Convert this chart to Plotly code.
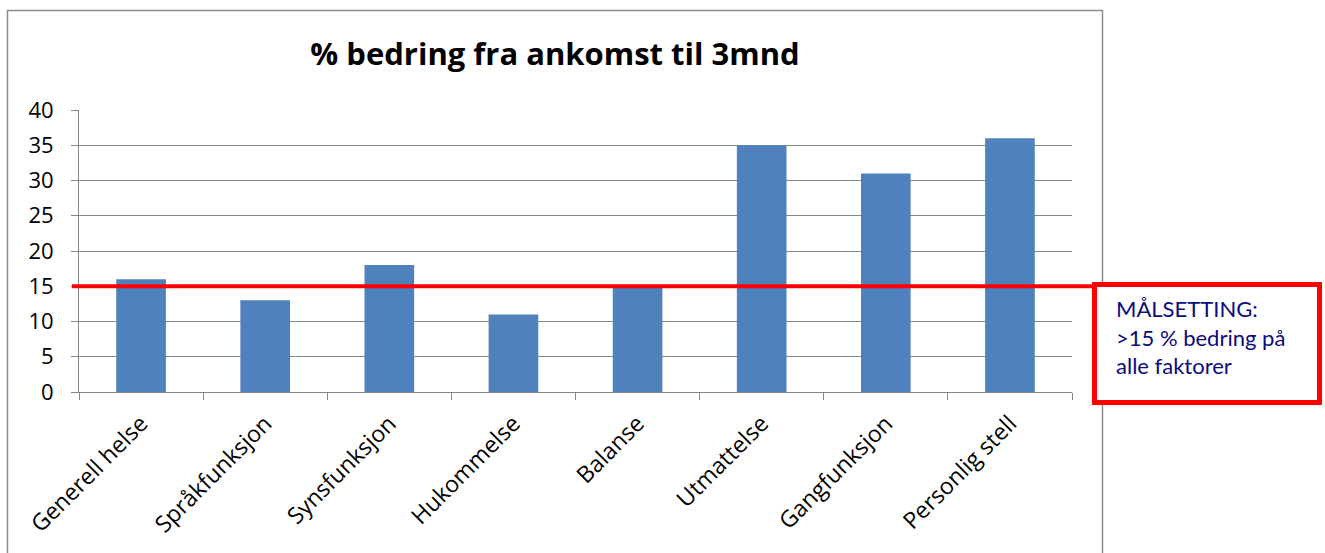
import plotly.graph_objects as go

categories = ["Generell helse", "Språkfunksjon", "Synsfunksjon", "Hukommelse",
              "Balanse", "Utmattelse", "Gangfunksjon", "Personlig stell"]
values = [16, 13, 18, 11, 15, 35, 31, 36]
target = 15
y_ticks = [0, 5, 10, 15, 20, 25, 30, 35, 40]
title_text = "% bedring fra ankomst til 3mnd"
note_text = "MÅLSETTING:<br>>15 % bedring på<br>alle faktorer"

W, H = 1325, 553
L, R, T, B = 79, 1072, 110, 392  # plot area pixels
pw, ph = R - L, B - T

def px(x):
    return (x - L) / pw

def py(y):
    return (B - y) / ph

fig = go.Figure()
fig.add_trace(go.Bar(x=categories, y=values, width=0.4,
                     marker=dict(color="#4F81BD", line=dict(width=0)),
                     hoverinfo="skip"))

shapes = [
    # outer chart border
    dict(type="rect", xref="paper", yref="paper",
         x0=px(7.5), x1=px(1102.5), y0=py(620), y1=py(10.5),
         line=dict(color="#8C8C8C", width=1.5), layer="below"),
    # target line
    dict(type="line", xref="paper", yref="y",
         x0=px(72), x1=px(1093), y0=target, y1=target,
         line=dict(color="#FF0000", width=4)),
    # note box
    dict(type="rect", xref="paper", yref="paper",
         x0=px(1094.5), x1=px(1319.5), y0=py(402.5), y1=py(284.5),
         line=dict(color="#FF0000", width=5), fillcolor="white"),
]

fig.update_layout(
    width=W, height=H,
    margin=dict(l=L, r=W - R, t=T, b=H - B),
    paper_bgcolor="white", plot_bgcolor="white",
    showlegend=False,
    font=dict(family="Open Sans, sans-serif", color="black"),
    title=dict(text="<b>" + title_text + "</b>", x=555 / W, xanchor="center",
               y=1 - 54 / H, yanchor="middle",
               font=dict(size=31, family="Open Sans, sans-serif", color="black")),
    shapes=shapes,
    annotations=[dict(text=note_text, xref="paper", yref="paper",
                      x=px(1114), y=py(293), xanchor="left", yanchor="top",
                      align="left", showarrow=False,
                      font=dict(size=22, color="#0B0B80", family="Lato, sans-serif"))],
    bargap=0.6,
)
fig.update_yaxes(range=[0, 40], tickvals=y_ticks, ticks="outside", ticklen=7,
                 tickcolor="#868686", showline=True, linecolor="#868686", linewidth=1,
                 showgrid=True, gridcolor="#868686", gridwidth=1, zeroline=False,
                 tickfont=dict(size=22, color="black"), ticklabelstandoff=13)
fig.update_xaxes(type="category", tickson="boundaries", ticks="outside", ticklen=7,
                 tickcolor="#868686", showline=True, linecolor="#868686", linewidth=1,
                 showgrid=False, tickangle=-45, tickfont=dict(size=23, color="black"),
                 ticklabelstandoff=8)

fig.write_html("out.html", config={"displayModeBar": False},
               post_script="document.body.style.margin='0';document.body.style.overflow='hidden';")
